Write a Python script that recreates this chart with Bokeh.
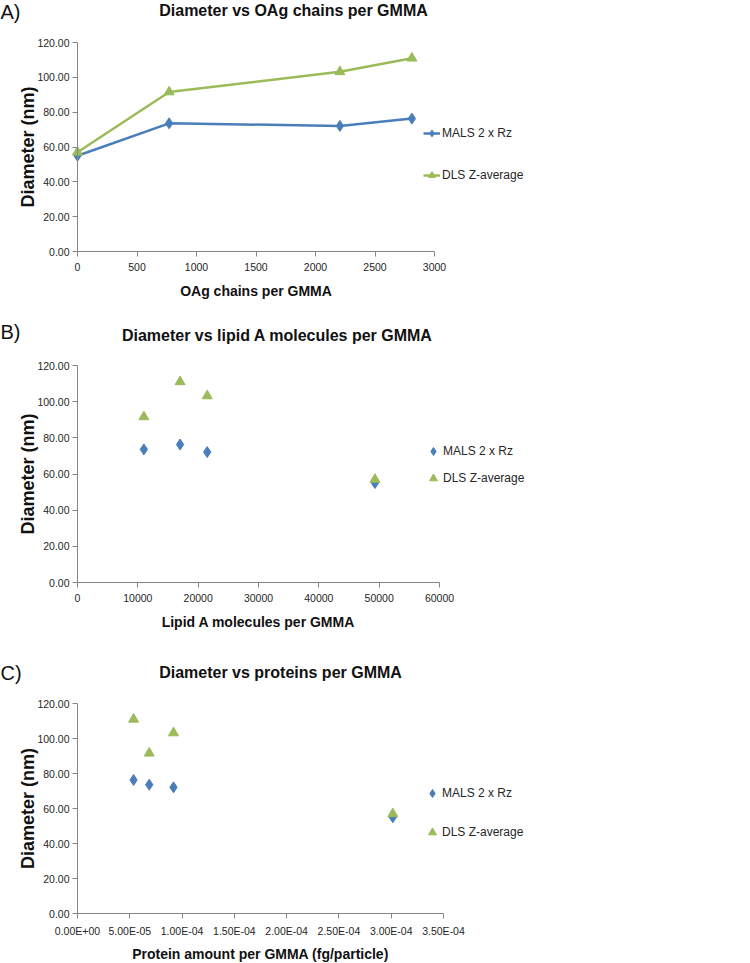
from bokeh.plotting import figure
from bokeh.layouts import column
from bokeh.models import (Range1d, FixedTicker, NumeralTickFormatter, CustomJSTickFormatter,
                          Legend, LegendItem, Label, LinearAxis)
from bokeh.embed import file_html
from bokeh.resources import INLINE

# ---------------- data ----------------
series_names = ["MALS 2 x Rz", "DLS Z-average"]
mals_diam = [55.0, 73.6, 72.1, 76.3]     # nm
dls_diam = [57.0, 91.6, 103.2, 111.0]    # nm
oag_chains = [0, 770, 2205, 2810]
lipid_a = [49300, 11000, 21500, 17000]
protein_amount = [3.015e-4, 6.86e-5, 9.18e-5, 5.36e-5]

y_ticks = [0, 20, 40, 60, 80, 100, 120]
oag_ticks = [0, 500, 1000, 1500, 2000, 2500, 3000]
lipid_ticks = [0, 10000, 20000, 30000, 40000, 50000, 60000]
protein_ticks = [0.0, 5e-05, 1e-04, 1.5e-04, 2e-04, 2.5e-04, 3e-04, 3.5e-04]

titles = ["Diameter vs OAg chains per GMMA",
          "Diameter vs lipid A molecules per GMMA",
          "Diameter vs proteins per GMMA"]
x_labels = ["OAg chains per GMMA", "Lipid A molecules per GMMA",
            "Protein amount per GMMA (fg/particle)"]
y_label = "Diameter (nm)"
panel_tags = ["A)", "B)", "C)"]

BLUE = "#4A7EBB"
GREEN = "#9BBB59"
AXIS = "#868686"
FONT = "Liberation Sans"
W = 740


class Panel:
    """A figure whose frame covers the whole canvas; the axes are drawn inside it."""

    def __init__(self, h, box, xr, yr, xticks, xfmt, xlabel, xlabel_standoff):
        self.h = h
        left, right, top, bottom = box
        x0, x1 = xr
        y0, y1 = yr
        kx = (x1 - x0) / (right - left)
        ky = (y1 - y0) / (bottom - top)
        self.kx, self.ky = kx, ky
        self.left, self.bottom, self.x0, self.y0 = left, bottom, x0, y0
        p = figure(width=W, height=h, output_backend="svg", toolbar_location=None,
                   x_range=Range1d(x0 - left * kx, x1 + (W - right) * kx),
                   y_range=Range1d(y0 - (h - bottom) * ky, y1 + top * ky),
                   x_axis_location=None, y_axis_location=None,
                   min_border=0, min_border_left=0, min_border_right=0,
                   min_border_top=0, min_border_bottom=0)
        p.outline_line_color = None
        p.grid.visible = False
        p.background_fill_color = "white"
        xa = LinearAxis(fixed_location=y0, bounds=(x0, x1), ticker=FixedTicker(ticks=xticks),
                        formatter=xfmt, axis_label=xlabel)
        ya = LinearAxis(fixed_location=x0, bounds=(y0, y1), ticker=FixedTicker(ticks=y_ticks),
                        formatter=NumeralTickFormatter(format="0.00"), axis_label=y_label)
        for ax in (xa, ya):
            ax.axis_line_color = AXIS
            ax.axis_line_width = 1
            ax.major_tick_line_color = AXIS
            ax.minor_tick_line_color = None
            ax.major_tick_out = 5
            ax.major_tick_in = 0
            ax.major_label_text_font = FONT
            ax.major_label_text_font_size = "10.5px"
            ax.major_label_text_color = "#262626"
            ax.axis_label_text_font = FONT
            ax.axis_label_text_font_style = "bold"
            ax.axis_label_text_color = "#111111"
        ya.axis_label_text_font_size = "18px"
        ya.axis_label_standoff = -4
        ya.major_label_standoff = 3
        xa.major_label_standoff = 6
        xa.axis_label_text_font_size = "14px"
        xa.axis_label_standoff = xlabel_standoff
        p.add_layout(xa, "below")
        p.add_layout(ya, "left")
        self.p = p

    def dx(self, px):
        return self.x0 + (px - self.left) * self.kx

    def dy(self, py):
        return self.y0 + (self.bottom - py) * self.ky

    def text(self, px, py, text, size, bold=False, align="left"):
        self.p.add_layout(Label(x=self.dx(px), y=self.dy(py), text=text,
                                text_font=FONT, text_font_size=size,
                                text_font_style="bold" if bold else "normal",
                                text_align=align, text_baseline="middle",
                                text_color="#111111"))

    def legend(self, items, px, py_bottom, glyph_w, glyph_h, spacing, standoff):
        leg = Legend(items=items, location=(px, self.h - py_bottom), orientation="vertical",
                     background_fill_alpha=0, border_line_color=None,
                     padding=0, margin=0, spacing=spacing,
                     glyph_width=glyph_w, glyph_height=glyph_h, label_height=glyph_h,
                     label_standoff=standoff, label_text_font=FONT,
                     label_text_font_size="12px", label_text_color="#262626")
        self.p.add_layout(leg)


sci_fmt = CustomJSTickFormatter(code="""
const s = tick.toExponential(2).toUpperCase();
const parts = s.split('E');
const sign = parts[1][0];
const d = parts[1].slice(1).padStart(2, '0');
return parts[0] + 'E' + sign + d;
""")

# ---------------- Panel A ----------------
A = Panel(320, (77, 434, 42, 251), (0, 3000), (0, 120), oag_ticks,
          NumeralTickFormatter(format="0"), x_labels[0], 9)
pA = A.p
lA1 = pA.line(oag_chains, mals_diam, line_color=BLUE, line_width=2.5)
sA1 = pA.scatter(oag_chains, mals_diam, marker="diamond", size=11, color=BLUE)
lA2 = pA.line(oag_chains, dls_diam, line_color=GREEN, line_width=2.5)
sA2 = pA.scatter(oag_chains, dls_diam, marker="triangle", size=10, color=GREEN)
A.legend([LegendItem(label=series_names[0], renderers=[lA1, sA1]),
          LegendItem(label=series_names[1], renderers=[lA2, sA2])],
         423, 186, 17, 22, 20, 2)
A.text(293, 10, titles[0], "16px", bold=True, align="center")
A.text(0, 11, panel_tags[0], "20px")

# ---------------- Panel B ----------------
B = Panel(320, (77, 439, 45, 262), (0, 60000), (0, 120), lipid_ticks,
          NumeralTickFormatter(format="0"), x_labels[1], 9)
pB = B.p
sB1 = pB.scatter(lipid_a, mals_diam, marker="diamond", size=11, color=BLUE)
sB2 = pB.scatter(lipid_a, dls_diam, marker="triangle", size=10, color=GREEN)
B.legend([LegendItem(label=series_names[0], renderers=[sB1]),
          LegendItem(label=series_names[1], renderers=[sB2])],
         423, 170, 20, 24, 3, 0)
B.text(277, 15, titles[1], "16px", bold=True, align="center")
B.text(0, 11, panel_tags[1], "20px")

# ---------------- Panel C ----------------
C = Panel(323, (77, 443, 63, 273), (0, 3.5e-4), (0, 120), protein_ticks,
          sci_fmt, x_labels[2], 6)
pC = C.p
sC1 = pC.scatter(protein_amount, mals_diam, marker="diamond", size=11, color=BLUE)
sC2 = pC.scatter(protein_amount, dls_diam, marker="triangle", size=10, color=GREEN)
C.legend([LegendItem(label=series_names[0], renderers=[sC1]),
          LegendItem(label=series_names[1], renderers=[sC2])],
         422, 204, 20, 24, 15, 0)
C.text(280, 32, titles[2], "16px", bold=True, align="center")
C.text(0, 32, panel_tags[2], "20px")

layout = column(pA, pB, pC, spacing=0)
open("out.html", "w").write(file_html(layout, INLINE))
